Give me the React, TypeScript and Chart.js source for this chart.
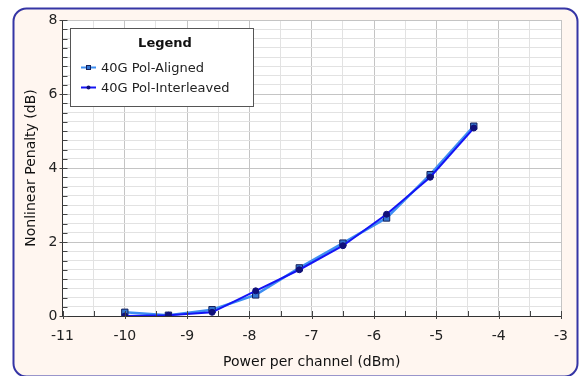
import React, { useEffect, useRef } from "react";
import { Chart, registerables } from "chart.js";

Chart.register(...registerables);

const powerDbm = [-10, -9.3, -8.6, -7.9, -7.2, -6.5, -5.8, -5.1, -4.4];
const alignedPenalty = [0.1, 0.02, 0.17, 0.57, 1.3, 1.97, 2.65, 3.82, 5.13];
const interleavedPenalty = [0.0, 0.02, 0.1, 0.68, 1.25, 1.9, 2.75, 3.75, 5.08];
const seriesNames = ["40G Pol-Aligned", "40G Pol-Interleaved"];
const xTitle = "Power per channel (dBm)";
const yTitle = "Nonlinear Penalty (dB)";
const legendTitle = "Legend";

const FONT = "DejaVu Sans";

const framePlugin = {
  id: "frame",
  beforeDraw(chart: any) {
    const ctx = chart.ctx;
    const { width, height, chartArea } = chart;
    ctx.save();
    ctx.fillStyle = "#ffffff";
    ctx.fillRect(0, 0, width, height);
    const x = 13.5, y = 8.5, w = 564, h = height - 8.5 + 0.5, r = 13;
    ctx.beginPath();
    ctx.moveTo(x + r, y);
    ctx.lineTo(x + w - r, y);
    ctx.arcTo(x + w, y, x + w, y + r, r);
    ctx.lineTo(x + w, y + h - r);
    ctx.arcTo(x + w, y + h, x + w - r, y + h, r);
    ctx.lineTo(x + r, y + h);
    ctx.arcTo(x, y + h, x, y + h - r, r);
    ctx.lineTo(x, y + r);
    ctx.arcTo(x, y, x + r, y, r);
    ctx.closePath();
    ctx.fillStyle = "#fff6f0";
    ctx.fill();
    ctx.lineWidth = 2;
    ctx.strokeStyle = "#3535a5";
    ctx.stroke();
    ctx.fillStyle = "#ffffff";
    ctx.fillRect(chartArea.left, chartArea.top, chartArea.right - chartArea.left, chartArea.bottom - chartArea.top);
    ctx.restore();
  },
  afterDraw(chart: any) {
    const ctx = chart.ctx;
    const xs = chart.scales.x;
    const ys = chart.scales.y;
    const { left, bottom } = chart.chartArea;
    ctx.save();
    ctx.strokeStyle = "#444444";
    ctx.lineWidth = 1;
    ys.ticks.forEach((t: any) => {
      const py = Math.round(ys.getPixelForValue(t.value)) + 0.5;
      const major = Math.abs(t.value % 2) < 1e-6;
      ctx.beginPath();
      ctx.moveTo(left - (major ? 3 : 0), py);
      ctx.lineTo(left + 5, py);
      ctx.stroke();
    });
    xs.ticks.forEach((t: any) => {
      const px = Math.round(xs.getPixelForValue(t.value)) + 0.5;
      const major = Math.abs(t.value % 1) < 1e-6;
      ctx.beginPath();
      ctx.moveTo(px, bottom + (major ? 3 : 0));
      ctx.lineTo(px, bottom - 5);
      ctx.stroke();
    });

    // legend box
    const bx = 70.5, by = 28.5, bw = 183, bh = 78;
    ctx.fillStyle = "#ffffff";
    ctx.fillRect(bx, by, bw, bh);
    ctx.strokeStyle = "#555555";
    ctx.lineWidth = 1;
    ctx.strokeRect(bx, by, bw, bh);
    ctx.fillStyle = "#111111";
    ctx.textBaseline = "middle";
    ctx.textAlign = "center";
    ctx.font = `bold 13px ${FONT}`;
    ctx.fillText(legendTitle, 165, 44);
    ctx.textAlign = "left";
    ctx.font = `13px ${FONT}`;
    chart.data.datasets.forEach((ds: any, i: number) => {
      const cy = 67.5 + i * 20;
      ctx.strokeStyle = ds.borderColor;
      ctx.lineWidth = 2;
      ctx.beginPath();
      ctx.moveTo(81, cy);
      ctx.lineTo(96, cy);
      ctx.stroke();
      ctx.fillStyle = ds.pointBackgroundColor;
      ctx.strokeStyle = ds.pointBorderColor;
      ctx.lineWidth = 1;
      if (ds.pointStyle === "rect") {
        ctx.fillRect(86.5, cy - 2, 4, 4);
        ctx.strokeRect(86.5, cy - 2, 4, 4);
      } else {
        ctx.beginPath();
        ctx.arc(88.5, cy, 2, 0, Math.PI * 2);
        ctx.fill();
      }
      ctx.fillStyle = "#222222";
      ctx.fillText(ds.label, 101, cy + 1);
    });
    ctx.restore();
  },
};

export default function App() {
  const ref = useRef<HTMLCanvasElement>(null);
  useEffect(() => {
    document.body.style.margin = "0";
    const chart = new Chart(ref.current!, {
      type: "line",
      data: {
        datasets: [
          {
            label: seriesNames[0],
            data: powerDbm.map((x, i) => ({ x, y: alignedPenalty[i] })),
            borderColor: "#3d8ef2",
            backgroundColor: "#3d8ef2",
            borderWidth: 2.5,
            pointStyle: "rect",
            pointRadius: 4.5,
            pointBackgroundColor: "#3575d0",
            pointBorderColor: "#15205a",
            pointBorderWidth: 1,
            order: 2,
          } as any,
          {
            label: seriesNames[1],
            data: powerDbm.map((x, i) => ({ x, y: interleavedPenalty[i] })),
            borderColor: "#1414f5",
            backgroundColor: "#1414f5",
            borderWidth: 2,
            pointStyle: "circle",
            pointRadius: 3,
            pointBackgroundColor: "#10107a",
            pointBorderColor: "#10107a",
            pointBorderWidth: 1,
            order: 1,
          } as any,
        ],
      },
      options: {
        animation: false,
        responsive: false,
        layout: { padding: { top: 20, right: 17, left: 0, bottom: 0 } },
        plugins: { legend: { display: false }, tooltip: { enabled: false } },
        scales: {
          x: {
            type: "linear",
            min: -11,
            max: -3,
            afterFit: (s: any) => { s.height = 60; },
            ticks: {
              stepSize: 0.5,
              autoSkip: false,
              maxRotation: 0,
              padding: 12,
              color: "#222222",
              font: { family: FONT, size: 14 },
              callback: (v: any) => (Math.abs(v % 1) < 1e-6 ? String(v) : ""),
            },
            grid: {
              drawTicks: false,
              color: (c: any) => (Math.abs(c.tick.value % 1) < 1e-6 ? "#c4c4c4" : "#e2e2e2"),
              lineWidth: 1,
            },
            border: { color: "#333333", width: 1 },
            title: {
              display: true,
              text: xTitle,
              color: "#111111",
              font: { family: FONT, size: 14 },
              padding: { top: 0, bottom: 5 },
            },
          },
          y: {
            type: "linear",
            min: 0,
            max: 8,
            afterFit: (s: any) => { s.width = 62.5; },
            ticks: {
              stepSize: 0.25,
              autoSkip: false,
              padding: 5,
              color: "#222222",
              font: { family: FONT, size: 14 },
              callback: (v: any) => (Math.abs(v % 2) < 1e-6 ? String(v) : ""),
            },
            grid: {
              drawTicks: false,
              color: (c: any) => (Math.abs(c.tick.value % 2) < 1e-6 ? "#c4c4c4" : "#e2e2e2"),
              lineWidth: 1,
            },
            border: { color: "#333333", width: 1 },
            title: {
              display: true,
              text: yTitle,
              color: "#111111",
              font: { family: FONT, size: 14 },
              padding: { top: 23, bottom: 0 },
            },
          },
        },
      },
      plugins: [framePlugin],
    });
    return () => chart.destroy();
  }, []);
  return <canvas ref={ref} width={580} height={376} style={{ display: "block" }} />;
}
